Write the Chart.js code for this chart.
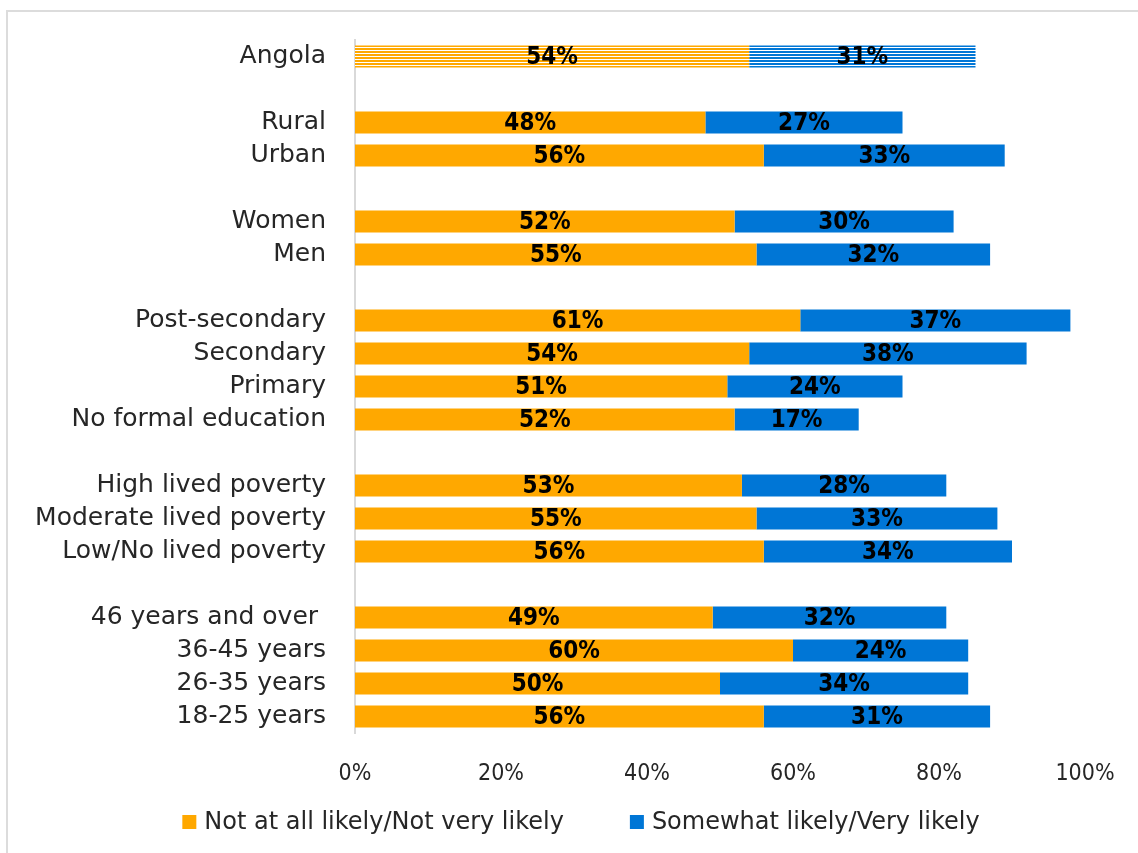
<!DOCTYPE html>
<html>
<head>
<meta charset="utf-8">
<script src="https://cdn.jsdelivr.net/npm/chart.js@4.4.1/dist/chart.umd.min.js"></script>
<style>
  html, body { margin: 0; padding: 0; background: #ffffff; overflow: hidden; }
  #wrap { width: 1138px; height: 853px; position: relative; }
</style>
</head>
<body>
<div id="wrap"><canvas id="c" width="1138" height="853"></canvas></div>
<script>
const categories = ['Angola', '', 'Rural', 'Urban', '', 'Women', 'Men', '',
  'Post-secondary', 'Secondary', 'Primary', 'No formal education', '',
  'High lived poverty', 'Moderate lived poverty', 'Low/No lived poverty', '',
  '46 years and over ', '36-45 years', '26-35 years', '18-25 years'];
const notLikely = [54, null, 48, 56, null, 52, 55, null, 61, 54, 51, 52, null, 53, 55, 56, null, 49, 60, 50, 56];
const likely    = [31, null, 27, 33, null, 30, 32, null, 37, 38, 24, 17, null, 28, 33, 34, null, 32, 24, 34, 31];
const seriesNames = ['Not at all likely/Not very likely', 'Somewhat likely/Very likely'];
const xTicks = [0, 20, 40, 60, 80, 100];

const ORANGE = '#FFA800';
const BLUE = '#0076D6';
const TEXT = '#262626';
const LABEL_FONT = "'DejaVu Sans', sans-serif";
const COND_FONT = "'DejaVu Sans Condensed', 'DejaVu Sans', sans-serif";

function stripePattern(color) {
  const p = document.createElement('canvas');
  p.width = 4; p.height = 3;
  const g = p.getContext('2d');
  g.fillStyle = '#ffffff'; g.fillRect(0, 0, 4, 3);
  g.fillStyle = color; g.fillRect(0, 0, 4, 2);
  return document.getElementById('c').getContext('2d').createPattern(p, 'repeat');
}
const orangeStripe = stripePattern(ORANGE);
const blueStripe = stripePattern(BLUE);

const framePlugin = {
  id: 'frame',
  beforeDraw(chart) {
    const ctx = chart.ctx;
    ctx.save();
    ctx.strokeStyle = '#dcdcdc';
    ctx.lineWidth = 2;
    ctx.beginPath();
    ctx.moveTo(7, 853); ctx.lineTo(7, 11); ctx.lineTo(1138, 11);
    ctx.stroke();
    ctx.restore();
  }
};

const segLabelPlugin = {
  id: 'segLabels',
  afterDatasetsDraw(chart) {
    const ctx = chart.ctx;
    ctx.save();
    ctx.font = "bold 24px " + COND_FONT;
    ctx.fillStyle = '#000000';
    ctx.textAlign = 'center';
    ctx.textBaseline = 'middle';
    chart.data.datasets.forEach((ds, di) => {
      const meta = chart.getDatasetMeta(di);
      meta.data.forEach((el, i) => {
        const v = ds.data[i];
        if (v === null || v === undefined) return;
        const p = el.getProps(['x', 'y', 'base'], true);
        ctx.fillText(v + '%', (p.x + p.base) / 2, p.y + 1);
      });
    });
    ctx.restore();
  }
};

// legend drawn below the axis, centred like the original
const legendPlugin = {
  id: 'bottomLegend',
  afterDraw(chart) {
    const ctx = chart.ctx;
    const colors = [ORANGE, BLUE];
    const box = 14, gapText = 8, gapItem = 66, centerX = 581, centerY = 822;
    ctx.save();
    ctx.font = "24px " + LABEL_FONT;
    const widths = chart.data.datasets.map(ds => ctx.measureText(ds.label).width);
    const total = widths.reduce((a, w) => a + box + gapText + w, 0) + gapItem * (widths.length - 1);
    let x = centerX - total / 2;
    ctx.textBaseline = 'middle';
    ctx.textAlign = 'left';
    chart.data.datasets.forEach((ds, i) => {
      ctx.fillStyle = colors[i];
      ctx.fillRect(x, centerY - box / 2, box, box);
      x += box + gapText;
      ctx.fillStyle = TEXT;
      ctx.fillText(ds.label, x, centerY + 1);
      x += widths[i] + gapItem;
    });
    ctx.restore();
  }
};

new Chart(document.getElementById('c'), {
  type: 'bar',
  data: {
    labels: categories,
    datasets: [
      {
        label: seriesNames[0],
        data: notLikely,
        backgroundColor: (c) => c.dataIndex === 0 ? orangeStripe : ORANGE,
        borderWidth: 0,
        categoryPercentage: 1,
        barPercentage: 0.67
      },
      {
        label: seriesNames[1],
        data: likely,
        backgroundColor: (c) => c.dataIndex === 0 ? blueStripe : BLUE,
        borderWidth: 0,
        categoryPercentage: 1,
        barPercentage: 0.67
      }
    ]
  },
  options: {
    indexAxis: 'y',
    responsive: false,
    animation: false,
    layout: { padding: { left: 0, right: 53, top: 40, bottom: 70 } },
    scales: {
      x: {
        stacked: true,
        min: 0, max: 100,
        afterBuildTicks(scale) { scale.ticks = xTicks.map(v => ({ value: v })); },
        afterFit(scale) { scale.height = 50; },
        grid: { display: false },
        border: { display: false },
        ticks: {
          callback: (v) => v + '%',
          color: TEXT,
          padding: 19,
          maxRotation: 0,
          font: { family: COND_FONT, size: 23 }
        }
      },
      y: {
        stacked: true,
        afterFit(scale) { scale.width = 355; },
        grid: { display: false },
        border: { display: true, color: '#d9d9d9', width: 2 },
        ticks: {
          color: TEXT,
          padding: 21,
          autoSkip: false,
          font: { family: LABEL_FONT, size: 25 }
        }
      }
    },
    plugins: {
      tooltip: { enabled: false },
      legend: { display: false }
    }
  },
  plugins: [framePlugin, segLabelPlugin, legendPlugin]
});
</script>
</body>
</html>
